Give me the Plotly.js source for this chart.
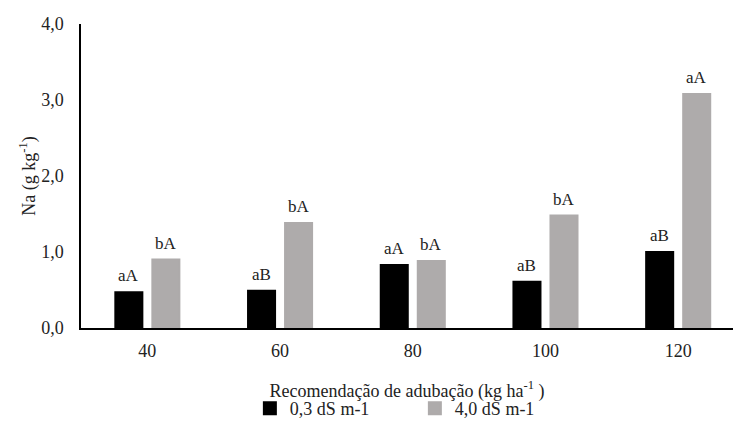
<!DOCTYPE html>
<html><head><meta charset="utf-8">
<script src="https://cdn.plot.ly/plotly-3.0.1.min.js"></script>
<style>html,body{margin:0;padding:0;background:#fff;}#c{width:733px;height:428px;}</style>
</head><body><div id="c"></div>
<script>
const categories = ['40','60','80','100','120'];
const seriesNames = ['0,3 dS m-1','4,0 dS m-1'];
const na03 = [0.47, 0.49, 0.83, 0.61, 1.00];
const na40 = [0.90, 1.38, 0.88, 1.48, 3.08];
const labels03 = ['aA','aB','aA','aB','aB'];
const labels40 = ['bA','bA','bA','bA','aA'];
const yTicks = [0,1,2,3,4];
const fam = 'Liberation Serif, Times New Roman, serif';
const colors = ['#000000', '#AEABAB'];
function mkFont(s){ return {family:fam, size:s||18, color:'#222'}; }
const traces = [
  {type:'bar', x:categories, y:na03, name:seriesNames[0], marker:{color:colors[0], line:{color:colors[0], width:2}}},
  {type:'bar', x:categories, y:na40, name:seriesNames[1], marker:{color:colors[1], line:{color:colors[1], width:2}}}
];
const annotations = [];
for (let i=0;i<categories.length;i++){
  annotations.push({x:i, y:na03[i], text:labels03[i], showarrow:false, xref:'x', yref:'y', xanchor:'center', yanchor:'bottom', xshift:-18.5, yshift:5, font:mkFont(17)});
  annotations.push({x:i, y:na40[i], text:labels40[i], showarrow:false, xref:'x', yref:'y', xanchor:'center', yanchor:'bottom', xshift:18.5, yshift:5, font:mkFont(17)});
}
const layout = {
  width:733, height:428,
  margin:{l:81, r:0, t:24, b:100},
  paper_bgcolor:'#fff', plot_bgcolor:'#fff',
  font:mkFont(),
  separators:',.',
  barmode:'group', bargap:0.442, bargroupgap:0.27,
  xaxis:{type:'category', range:[-0.5, 4.413], showline:true, linecolor:'#000', linewidth:1.5, ticks:'', showgrid:false, zeroline:false,
         ticklabelstandoff:6,
         tickfont:mkFont(), title:{text:'Recomendação de adubação (kg ha<sup>-1</sup> )', font:mkFont(), standoff:24}},
  yaxis:{range:[0,4], tickvals:yTicks, tickformat:'.1f', showline:true, linecolor:'#000', linewidth:1.5, ticks:'', showgrid:false, zeroline:false,
         tickfont:mkFont(), ticklabelstandoff:12, title:{text:'Na (g kg<sup>-1</sup>)', font:mkFont(), standoff:1}},
  legend:{orientation:'h', x:0.259, xanchor:'left', y:-0.3257, yanchor:'bottom', font:mkFont(), traceorder:'normal', entrywidth:120, entrywidthmode:'pixels'},
  annotations:annotations,
  showlegend:true
};
Plotly.newPlot('c', traces, layout, {displayModeBar:false});
</script></body></html>
